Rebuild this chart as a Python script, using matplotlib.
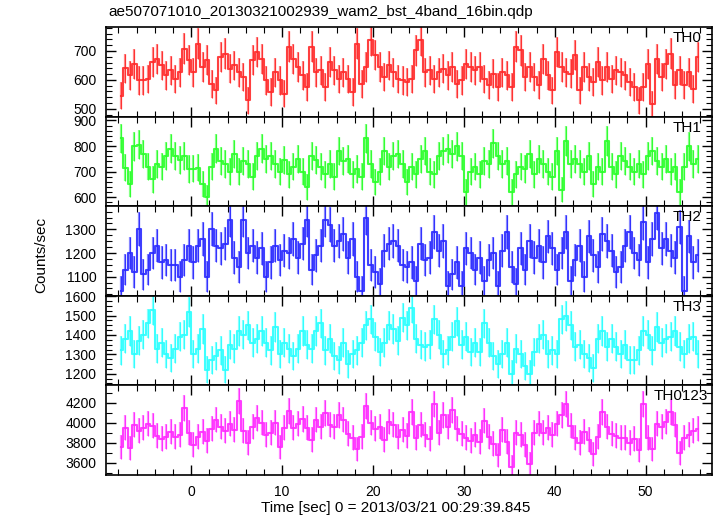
import numpy as np
import matplotlib.pyplot as plt
from matplotlib.ticker import MultipleLocator, AutoMinorLocator

plt.rcParams['font.family'] = ['Liberation Sans', 'DejaVu Sans']

# light curve, 0.5 s bins starting at -7.75 s
t_start = -7.75
bin_width = 0.5
exposure = 0.25  # used for the poisson error bars

th0 = [546, 640, 616, 656, 598, 598, 604, 662, 673, 650, 616, 633, 604, 627, 708, 668,
       627, 725, 645, 668, 587, 564, 679, 691, 639, 650, 627, 610, 529, 668, 697, 673,
       598, 558, 627, 598, 552, 714, 673, 645, 616, 575, 714, 627, 633, 575, 662, 633,
       604, 627, 604, 558, 725, 587, 645, 737, 685, 645, 610, 650, 627, 604, 598, 592,
       604, 702, 737, 627, 633, 604, 627, 639, 616, 645, 587, 598, 656, 645, 633, 645,
       604, 581, 621, 575, 627, 616, 575, 714, 702, 610, 645, 610, 581, 673, 616, 564,
       697, 645, 627, 621, 685, 564, 645, 610, 592, 662, 598, 645, 604, 633, 627, 616,
       592, 575, 529, 575, 656, 517, 673, 610, 656, 691, 581, 633, 581, 627, 569, 679]

th1 = [830, 715, 650, 800, 805, 770, 720, 670, 730, 720, 760, 790, 760, 745, 760, 710,
       712, 715, 650, 600, 720, 790, 740, 730, 700, 770, 700, 740, 730, 680, 760, 790,
       750, 760, 730, 700, 745, 690, 720, 750, 700, 640, 760, 745, 720, 690, 730, 680,
       780, 740, 750, 690, 710, 680, 830, 730, 660, 700, 780, 720,
       760, 770, 730, 660, 720, 690, 750, 780, 700, 690, 760, 780, 790, 770, 800, 760,
       620, 700, 720, 690, 740, 730, 810, 760, 730, 740, 620, 690, 720, 710, 770, 690,
       750, 730, 700, 680, 780, 630, 820, 730, 750, 730, 700, 760, 650, 720, 700, 820,
       720, 690, 760, 740, 720, 700, 730, 690, 760, 780, 740, 720, 750, 700, 720, 620,
       720, 800, 730, 750]

th2 = [1040, 1130, 1200, 1120, 1300, 1110, 1130, 1200, 1230, 1160, 1170, 1150, 1150, 1100,
       1170, 1230, 1160, 1230, 1260, 1100, 1300, 1230, 1220, 1240, 1340, 1180, 1140, 1340,
       1200, 1230, 1180, 1220, 1100, 1160, 1230, 1170, 1210, 1200, 1260, 1180, 1240, 1340,
       1130, 1190, 1230, 1340, 1320, 1230, 1250, 1280, 1180, 1260, 1100, 1040, 1350, 1150,
       1120, 1070, 1210, 1240,
       1250, 1230, 1150, 1140, 1160, 1080, 1240, 1170, 1180, 1290, 1210, 1250, 1060, 1110,
       1160, 1060, 1220, 1200, 1130, 1180, 1080, 1170, 1200, 1060, 1210, 1290, 1140, 1070,
       1220, 1130, 1250, 1180, 1230, 1160, 1270, 1220, 1130, 1200, 1290, 1080, 1170, 1230,
       1100, 1270, 1190, 1140, 1280, 1250, 1210, 1120, 1140, 1230, 1290, 1200, 1170, 1330,
       1160, 1260, 1370, 1220, 1260, 1210, 1180, 1310, 1040, 1270, 1160, 1190]

th3 = [1320, 1380, 1420, 1300, 1370, 1400, 1460, 1530, 1330, 1360, 1300, 1280, 1330, 1390,
       1400, 1520, 1300, 1330, 1430, 1220, 1270, 1290, 1320, 1220, 1350, 1330, 1420, 1400,
       1450, 1360, 1380, 1420, 1360, 1320, 1440, 1300, 1360, 1330, 1290, 1330, 1420, 1350,
       1330, 1420, 1460, 1320, 1380, 1290, 1270, 1360, 1250, 1300, 1320, 1360, 1450, 1480,
       1390, 1310, 1360, 1450,
       1430, 1370, 1490, 1450, 1540, 1380, 1350, 1340, 1350, 1480, 1400, 1300, 1320, 1390,
       1470, 1350, 1390, 1310, 1360, 1310, 1460, 1360, 1290, 1250, 1300, 1360, 1200, 1330,
       1300, 1240, 1200, 1310, 1380, 1400, 1300, 1320, 1300, 1480, 1500, 1450, 1340, 1350,
       1300, 1280, 1230, 1380, 1420, 1340, 1380, 1340, 1300, 1350, 1270, 1270, 1320, 1420,
       1400, 1320, 1440, 1360, 1380, 1390, 1420, 1340, 1300, 1380, 1390, 1300]

th0123 = [3760, 3950, 3750, 3980, 3920, 3950, 3990, 3970, 3870, 3840, 3860, 3910, 3860, 3880,
          4150, 3900, 3780, 3860, 3910, 3820, 3940, 4030, 3960, 3920, 3990, 3930, 4220, 3920,
          3800, 3960, 4050, 4000, 3880, 3900, 4000, 3760, 3950, 4120, 3950, 3990, 4040, 3950,
          3830, 4030, 3960, 4100, 3980, 3960, 4080, 4030, 3890, 3850, 3740, 3860, 4170, 4000,
          3940, 3960, 3830, 4010,
          3980, 3860, 3930, 3870, 4110, 3850, 3980, 3880, 3840, 4190, 3900, 4080, 3960, 4130,
          3940, 3890, 3850, 3820, 3880, 3810, 4020, 3860, 3790, 3680, 3930, 3810, 3560, 3900,
          3880, 3780, 3590, 3900, 3990, 3900, 3950, 3880, 3990, 4080, 4190, 3970, 3850, 3800,
          3910, 3830, 3690, 3860, 4110, 3960, 3890, 3870, 3850, 3850, 3800, 3840, 3730, 4190,
          3850, 3740, 3990, 3960, 4010, 4110, 3980, 3700, 3850, 3880, 3920, 3940]

names = ['TH0', 'TH1', 'TH2', 'TH3', 'TH0123']
series = [th0, th1, th2, th3, th0123]
colors = ['#ff2a2a', '#2aff2a', '#2a2aff', '#2affff', '#ff2aff']
ylims = [(473, 783), (565, 915), (1019, 1398), (1140, 1602), (3475, 4377)]
yticks = [[500, 600, 700], [600, 700, 800, 900], [1100, 1200, 1300],
          [1200, 1300, 1400, 1500, 1600], [3600, 3800, 4000, 4200]]
nminor = [5, 5, 4, 4, 2]
label_x = [673, 673, 673, 673, 654]

fig = plt.figure(figsize=(7.17, 5.16), dpi=100)
axes = fig.subplots(5, 1, sharex=True, gridspec_kw=dict(hspace=0))
fig.subplots_adjust(left=106/717, right=712/717, top=1-27/516, bottom=1-475/516)

for ax, name, vals, c, yl, yt, nm, lx in zip(axes, names, series, colors, ylims, yticks, nminor, label_x):
    vals = np.array(vals, dtype=float)
    t = t_start + bin_width * np.arange(len(vals))
    err = np.sqrt(vals / exposure)
    ax.errorbar(t, vals, yerr=err, fmt='none', ecolor=c, elinewidth=1.6, alpha=0.55)
    ax.errorbar(t, vals, yerr=err, fmt='none', ecolor=c, elinewidth=0.8, alpha=0.9)
    ax.step(t, vals, where='mid', color=c, lw=1.5, alpha=0.9)
    ax.set_ylim(yl)
    ax.set_yticks(yt)
    ax.yaxis.set_minor_locator(AutoMinorLocator(nm))
    ax.set_xlim(-9.37, 57.3)
    ax.xaxis.set_major_locator(MultipleLocator(10))
    ax.xaxis.set_minor_locator(MultipleLocator(2))
    ax.tick_params(which='both', direction='in', top=True, right=True, labelsize=10, pad=7)
    ax.tick_params(which='major', length=7, width=1.0)
    ax.tick_params(which='minor', length=4, width=0.8)
    for sp in ax.spines.values():
        sp.set_linewidth(1.2)
    ax.text((lx - 106) / 606, 0.955, name, transform=ax.transAxes, ha='left', va='top', fontsize=11)

fig.text(108/717, 1-12/516, 'ae507071010_20130321002939_wam2_bst_4band_16bin.qdp',
         ha='left', va='center', fontsize=11)
fig.text(396/717, 1-508/516, 'Time [sec] 0 = 2013/03/21 00:29:39.845', ha='center', va='center', fontsize=11)
fig.text(41/717, 1-255/516, 'Counts/sec', rotation=90, ha='center', va='center', fontsize=11)

fig.savefig('out.png', dpi=100)
